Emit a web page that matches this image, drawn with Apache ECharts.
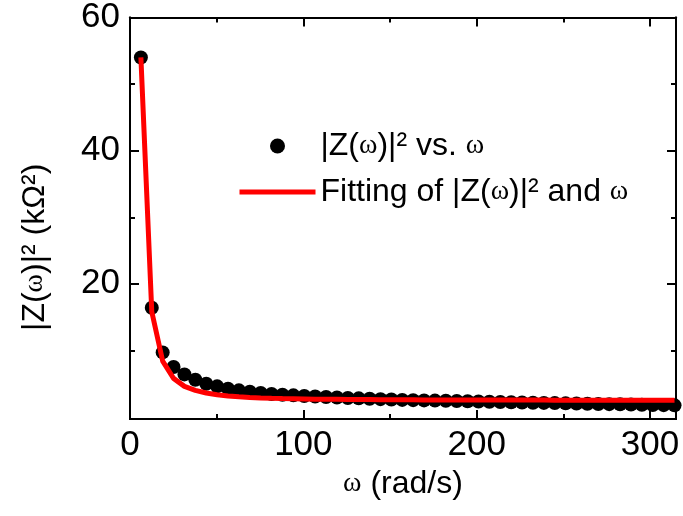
<!DOCTYPE html>
<html>
<head>
<meta charset="utf-8">
<script src="https://cdn.jsdelivr.net/npm/echarts@6/dist/echarts.min.js"></script>
<style>
    html, body {margin: 0; padding: 0; background: #fff;}
    #chart {width: 683px; height: 516px;}
</style>
</head>
<body>
<div id="chart"></div>
<script>
// omega (rad/s) of each measured point
var omega = [6.28, 12.57, 18.85, 25.13, 31.42, 37.70, 43.98, 50.27, 56.55, 62.83,
    69.12, 75.40, 81.68, 87.96, 94.25, 100.53, 106.81, 113.10, 119.38, 125.66,
    131.95, 138.23, 144.51, 150.80, 157.08, 163.36, 169.65, 175.93, 182.21, 188.50,
    194.78, 201.06, 207.35, 213.63, 219.91, 226.19, 232.48, 238.76, 245.04, 251.33,
    257.61, 263.89, 270.18, 276.46, 282.74, 289.03, 295.31, 301.59, 307.88, 314.16]
// |Z(w)|^2 measured (kOhm^2)
var zSquared = [54.0, 16.4, 9.7, 7.5, 6.4, 5.6, 5.0, 4.6, 4.25, 4.0,
    3.8, 3.6, 3.45, 3.35, 3.25, 3.15, 3.07, 3.0, 2.93, 2.86,
    2.8, 2.74, 2.68, 2.62, 2.57, 2.53, 2.49, 2.46, 2.43, 2.40,
    2.36, 2.32, 2.28, 2.25, 2.21, 2.18, 2.15, 2.12, 2.09, 2.05,
    2.02, 1.99, 1.96, 1.93, 1.9, 1.87, 1.84, 1.81, 1.78, 1.75]
// fitted curve at the same omega
var zFit = [54.0, 15.8, 8.4, 5.8, 4.6, 4.0, 3.6, 3.35, 3.15, 3.03,
    2.94, 2.87, 2.81, 2.77, 2.74, 2.71, 2.68, 2.66, 2.65, 2.63,
    2.62, 2.61, 2.60, 2.59, 2.58, 2.58, 2.57, 2.57, 2.56, 2.56,
    2.56, 2.55, 2.55, 2.55, 2.54, 2.54, 2.54, 2.54, 2.53, 2.53,
    2.53, 2.53, 2.53, 2.53, 2.52, 2.52, 2.52, 2.52, 2.52, 2.52]

var xMajorTicks = [0, 100, 200, 300]
var xMinorTicks = [50, 150, 250]
var yMajorTicks = [20, 40, 60]
var yMinorTicks = [10, 30, 50]
var seriesNames = ['|Z(ω)|² vs. ω', 'Fitting of |Z(ω)|² and ω']

var font = 'Liberation Sans, Arial, sans-serif'
var greek = {w: {fontFamily: 'Liberation Serif, DejaVu Serif, serif', fontSize: 28, color: '#000'}}
var toRich = (s) => s.replace(/ω/g, '{w|ω}')

var xRange = {min: 0, max: 315}
var yRange = {min: -0.3, max: 60}

var frameAxis = (extra) => Object.assign({
    type: 'value',
    splitLine: {show: false},
    axisLine: {show: true, onZero: false, lineStyle: {color: '#000', width: 2}},
    axisTick: {show: true, inside: true, length: 9, lineStyle: {color: '#000', width: 2}},
    axisLabel: {show: false}
}, extra)

var tick = (len, values) => ({show: true, inside: true, length: len, customValues: values, lineStyle: {color: '#000', width: 2}})

var chart = echarts.init(document.getElementById('chart'))

chart.setOption({
    animation: false,
    backgroundColor: '#fff',
    grid: {left: 130, right: 7, top: 15, bottom: 97},
    legend: {
        orient: 'vertical',
        left: 237,
        top: 129,
        padding: 0,
        itemWidth: 76,
        itemHeight: 15,
        itemGap: 12,
        data: [
            seriesNames[0],
            {name: seriesNames[1], itemStyle: {opacity: 0}, lineStyle: {width: 5, color: '#ff0000'}}
        ],
        formatter: (name) => toRich(name),
        textStyle: {fontFamily: font, fontSize: 32, color: '#000', lineHeight: 34, rich: greek}
    },
    xAxis: [
        frameAxis(Object.assign({
            position: 'bottom',
            name: toRich('ω (rad/s)'),
            nameLocation: 'middle',
            nameGap: 47,
            nameTextStyle: {fontFamily: font, fontSize: 32, color: '#000', rich: greek},
            axisTick: tick(9, xMajorTicks),
            axisLabel: {show: true, fontFamily: font, fontSize: 35, color: '#000', margin: 9, customValues: xMajorTicks}
        }, xRange)),
        frameAxis(Object.assign({position: 'bottom', axisTick: tick(5, xMinorTicks)}, xRange)),
        frameAxis(Object.assign({position: 'top', axisTick: tick(9, xMajorTicks)}, xRange)),
        frameAxis(Object.assign({position: 'top', axisTick: tick(5, xMinorTicks)}, xRange))
    ],
    yAxis: [
        frameAxis(Object.assign({
            position: 'left',
            name: toRich('|Z(ω)|² (kΩ²)'),
            nameLocation: 'middle',
            nameGap: 79,
            nameRotate: 90,
            nameTextStyle: {fontFamily: font, fontSize: 32, color: '#000', rich: greek, padding: [0, 58, 0, 0]},
            axisTick: tick(9, yMajorTicks),
            axisLabel: {show: true, fontFamily: font, fontSize: 35, color: '#000', margin: 10, customValues: yMajorTicks}
        }, yRange)),
        frameAxis(Object.assign({position: 'left', axisTick: tick(5, yMinorTicks)}, yRange)),
        frameAxis(Object.assign({position: 'right', axisTick: tick(9, yMajorTicks)}, yRange)),
        frameAxis(Object.assign({position: 'right', axisTick: tick(5, yMinorTicks)}, yRange))
    ],
    series: [
        {
            name: seriesNames[0],
            type: 'scatter',
            symbol: 'circle',
            symbolSize: 14,
            itemStyle: {color: '#000', opacity: 1},
            data: omega.map((w, i) => [w, zSquared[i]]),
            z: 2
        },
        {
            name: seriesNames[1],
            type: 'line',
            showSymbol: false,
            symbol: 'none',
            lineStyle: {color: '#ff0000', width: 5},
            itemStyle: {color: '#ff0000'},
            data: omega.map((w, i) => [w, zFit[i]]),
            z: 3
        }
    ]
})
</script>
</body>
</html>
